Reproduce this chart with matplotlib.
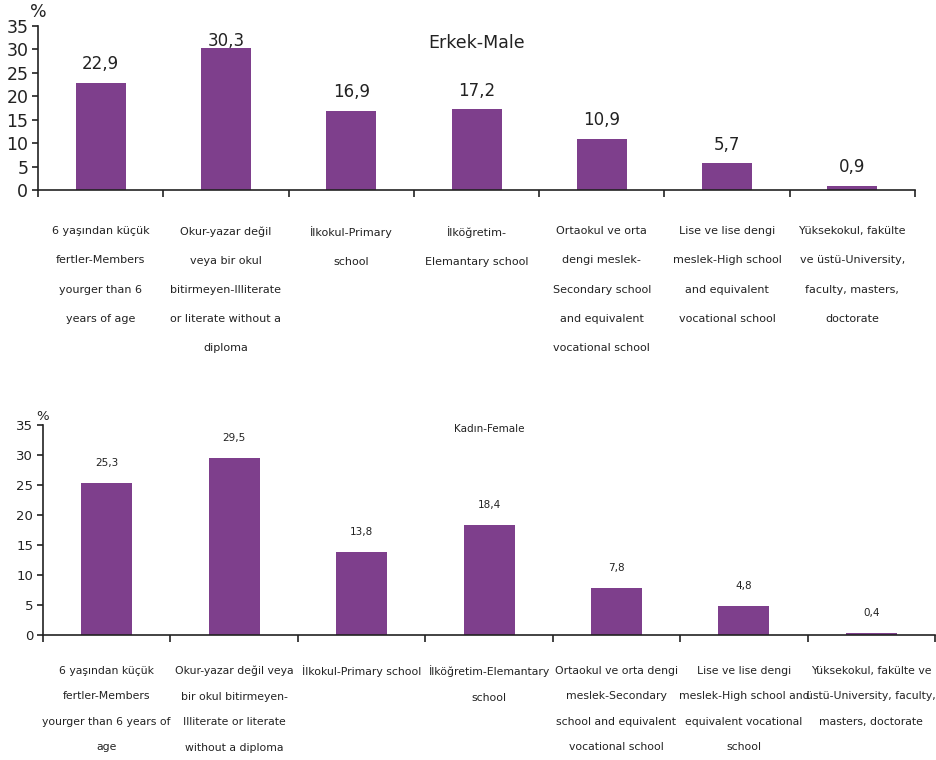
import matplotlib.pyplot as plt
import numpy as np

# data
male_labels = [
    "6 yaşından küçük\nfertler-Members\nyourger than 6\nyears of age",
    "Okur-yazar değil\nveya bir okul\nbitirmeyen-Illiterate\nor literate without a\ndiploma",
    "İlkokul-Primary\nschool",
    "İlköğretim-\nElemantary school",
    "Ortaokul ve orta\ndengi meslek-\nSecondary school\nand equivalent\nvocational school",
    "Lise ve lise dengi\nmeslek-High school\nand equivalent\nvocational school",
    "Yüksekokul, fakülte\nve üstü-University,\nfaculty, masters,\ndoctorate",
]
female_labels = [
    "6 yaşından küçük\nfertler-Members\nyourger than 6 years of\nage",
    "Okur-yazar değil veya\nbir okul bitirmeyen-\nIlliterate or literate\nwithout a diploma",
    "İlkokul-Primary school",
    "İlköğretim-Elemantary\nschool",
    "Ortaokul ve orta dengi\nmeslek-Secondary\nschool and equivalent\nvocational school",
    "Lise ve lise dengi\nmeslek-High school and\nequivalent vocational\nschool",
    "Yüksekokul, fakülte ve\nüstü-University, faculty,\nmasters, doctorate",
]
male_values = [22.9, 30.3, 16.9, 17.2, 10.9, 5.7, 0.9]
female_values = [25.3, 29.5, 13.8, 18.4, 7.8, 4.8, 0.4]

BAR = '#7E3F8C'
TXT = '#222222'
plt.rcParams['font.family'] = ['DejaVu Sans']


def draw(ax, values, labels, title, tick_fs, val_fs, title_fs, title_y,
         cat_fs, pad, linesp, val_off, val_max, pct_y):
    x = np.arange(len(values))
    ax.bar(x, values, width=0.4, color=BAR)
    ax.set_xlim(-0.5, len(values) - 0.5)
    ax.set_ylim(0, 35)
    ax.set_yticks(np.arange(0, 36, 5))
    ax.tick_params(axis='y', labelsize=tick_fs, length=4, width=1.2,
                   colors=TXT, pad=3)
    ax.set_xticks(np.arange(-0.5, len(values), 1.0))
    ax.set_xticklabels([])
    ax.tick_params(axis='x', length=5, width=1.2, direction='out',
                   colors=TXT)
    for s in ['top', 'right']:
        ax.spines[s].set_visible(False)
    for s in ['left', 'bottom']:
        ax.spines[s].set_linewidth(1.2)
        ax.spines[s].set_color(TXT)
    # category labels under the axis
    for xi, lab in zip(x, labels):
        ax.annotate(lab, xy=(xi, 0), xycoords=('data', 'axes fraction'),
                    xytext=(0, -pad), textcoords='offset points',
                    ha='center', va='top', fontsize=cat_fs, color=TXT,
                    linespacing=linesp, annotation_clip=False)
    for xi, v in zip(x, values):
        ax.text(xi, min(v + val_off, val_max), f"{v:.1f}".replace('.', ','),
                ha='center', va='center', fontsize=val_fs, color=TXT)
    ax.text(0.5, title_y, title, transform=ax.transAxes, ha='center',
            va='center', fontsize=title_fs, color=TXT)
    ax.text(0.0, pct_y, '%', transform=ax.transAxes, ha='center',
            va='bottom', fontsize=tick_fs, color=TXT)


fig = plt.figure(figsize=(9.37, 7.6), dpi=100)
ax1 = fig.add_axes([0.0406, 0.75, 0.936, 0.2158])
ax2 = fig.add_axes([0.0459, 0.1645, 0.952, 0.2763])

draw(ax1, male_values, male_labels, 'Erkek-Male', 12.5, 12, 12.5, 0.895,
     8, 26, 3.4, 4.0, 31.8, 1.03)
draw(ax2, female_values, female_labels, 'Kadın-Female', 9.5, 7.5, 7.5, 0.98,
     7.8, 22, 2.95, 3.3, 40, 1.01)

fig.savefig('out.png', dpi=100)
